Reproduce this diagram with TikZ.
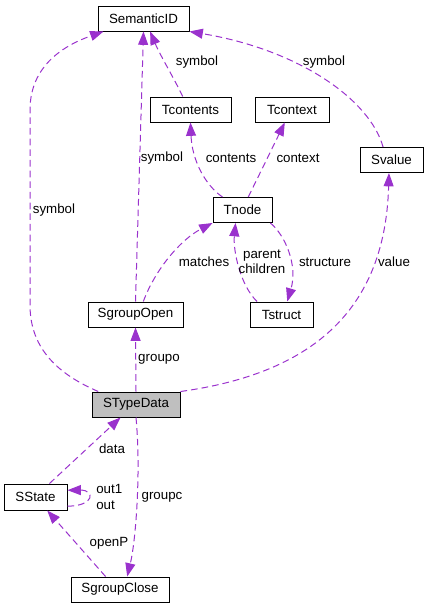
\documentclass[tikz,border=0pt]{standalone}
\usepackage{fontspec}
\setmainfont{Liberation Sans}
\usepackage{xcolor}
\usetikzlibrary{arrows.meta}
\definecolor{relpurple}{HTML}{9A32CD}
\definecolor{curgray}{HTML}{BFBFBF}

\begin{document}
\begin{tikzpicture}[
  x=0.75pt, y=-0.75pt,
  font=\fontsize{10}{11.5}\selectfont,
  cls/.style={draw=black, line width=0.75pt, fill=white, inner sep=0pt,
              minimum height=18.75pt, align=center},
  cur/.style={cls, fill=curgray},
  rel/.style={draw=relpurple, line width=0.75pt, dash pattern=on 5pt off 3pt,
              -{Triangle[length=10pt, width=7.5pt, fill=relpurple]}},
  lbl/.style={inner sep=0pt, align=center},
]
\useasboundingbox (0,0) rectangle (429,608);

% classes
\node[cls, minimum width=68.25pt] (semid) at (143.5,18.5) {SemanticID};
\node[cls, minimum width=60.75pt] (tcontents) at (190.5,109.5) {Tcontents};
\node[cls, minimum width=55.5pt] (tcontext) at (292,109.5) {Tcontext};
\node[cls, minimum width=47.25pt] (svalue) at (391.5,160) {Svalue};
\node[cls, minimum width=44.25pt] (tnode) at (242.5,210) {Tnode};
\node[cls, minimum width=71.25pt] (sgopen) at (135.5,314.5) {SgroupOpen};
\node[cls, minimum width=47.25pt] (tstruct) at (281.5,314.5) {Tstruct};
\node[cur, minimum width=66pt] (stype) at (136,404.5) {STypeData};
\node[cls, minimum width=47.25pt, minimum height=19.5pt] (sstate) at (35.5,497) {SState};
\node[cls, minimum width=73.5pt] (sgclose) at (120,589.5) {SgroupClose};

% relations
\draw[rel] (stype.161) .. controls (60,375) and (30,350) .. (30,305)
  -- (30,110) .. controls (30,65) and (65,45) .. (semid.198);
\draw[rel] (sgopen.north) -- (semid.south);
\draw[rel] (tcontents.121) .. controls (175,80) and (160,55) .. (semid.297);
\draw[rel] (svalue.123) .. controls (370,100) and (300,50) .. (semid.south east);
\draw[rel] (tnode.147) .. controls (205,185) and (192,160) .. (tcontents.south);
\draw[rel] (tnode.66) -- (tcontext.241);
\draw[rel] (sgopen.59) .. controls (155,270) and (180,240) .. (tnode.south west);
\draw[rel] (tstruct.152) .. controls (240,285) and (233,250) .. (tnode.242);
\draw[rel] (tnode.335) .. controls (285,235) and (298,265) .. (tstruct.66);
\draw[rel] (stype.north east) .. controls (300,375) and (385,320) .. (svalue.259);
\draw[rel] (stype.north) -- (sgopen.south);
\draw[rel] (sstate.44) -- (stype.220);
\draw[rel] (sstate.344) .. controls (95,506) and (95,490) .. (sstate.12);
\draw[rel] (stype.south) .. controls (141,470) and (136,540) .. (sgclose.61);
\draw[rel] (sgclose.138) -- (sstate.311);

% labels
\node[lbl] (lsym1) at (54,210) {symbol};
\node[lbl] (lsym2) at (162,158) {symbol};
\node[lbl] (lsym3) at (197,62) {symbol};
\node[lbl] (lsym4) at (324,62) {symbol};
\node[lbl] (lcontents) at (231,158) {contents};
\node[lbl] (lcontext) at (298,158) {context};
\node[lbl] (lmatches) at (204,262) {matches};
\node[lbl] (lparent) at (262,262) {parent\\children};
\node[lbl] (lstructure) at (325,262) {structure};
\node[lbl] (lvalue) at (394,262) {value};
\node[lbl] (lgroupo) at (159,359) {groupo};
\node[lbl] (ldata) at (112,449) {data};
\node[lbl, align=left, anchor=west] (lout) at (96,497) {out1\\out};
\node[lbl] (lgroupc) at (162,497) {groupc};
\node[lbl] (lopenp) at (109,543) {openP};
\end{tikzpicture}
\end{document}
